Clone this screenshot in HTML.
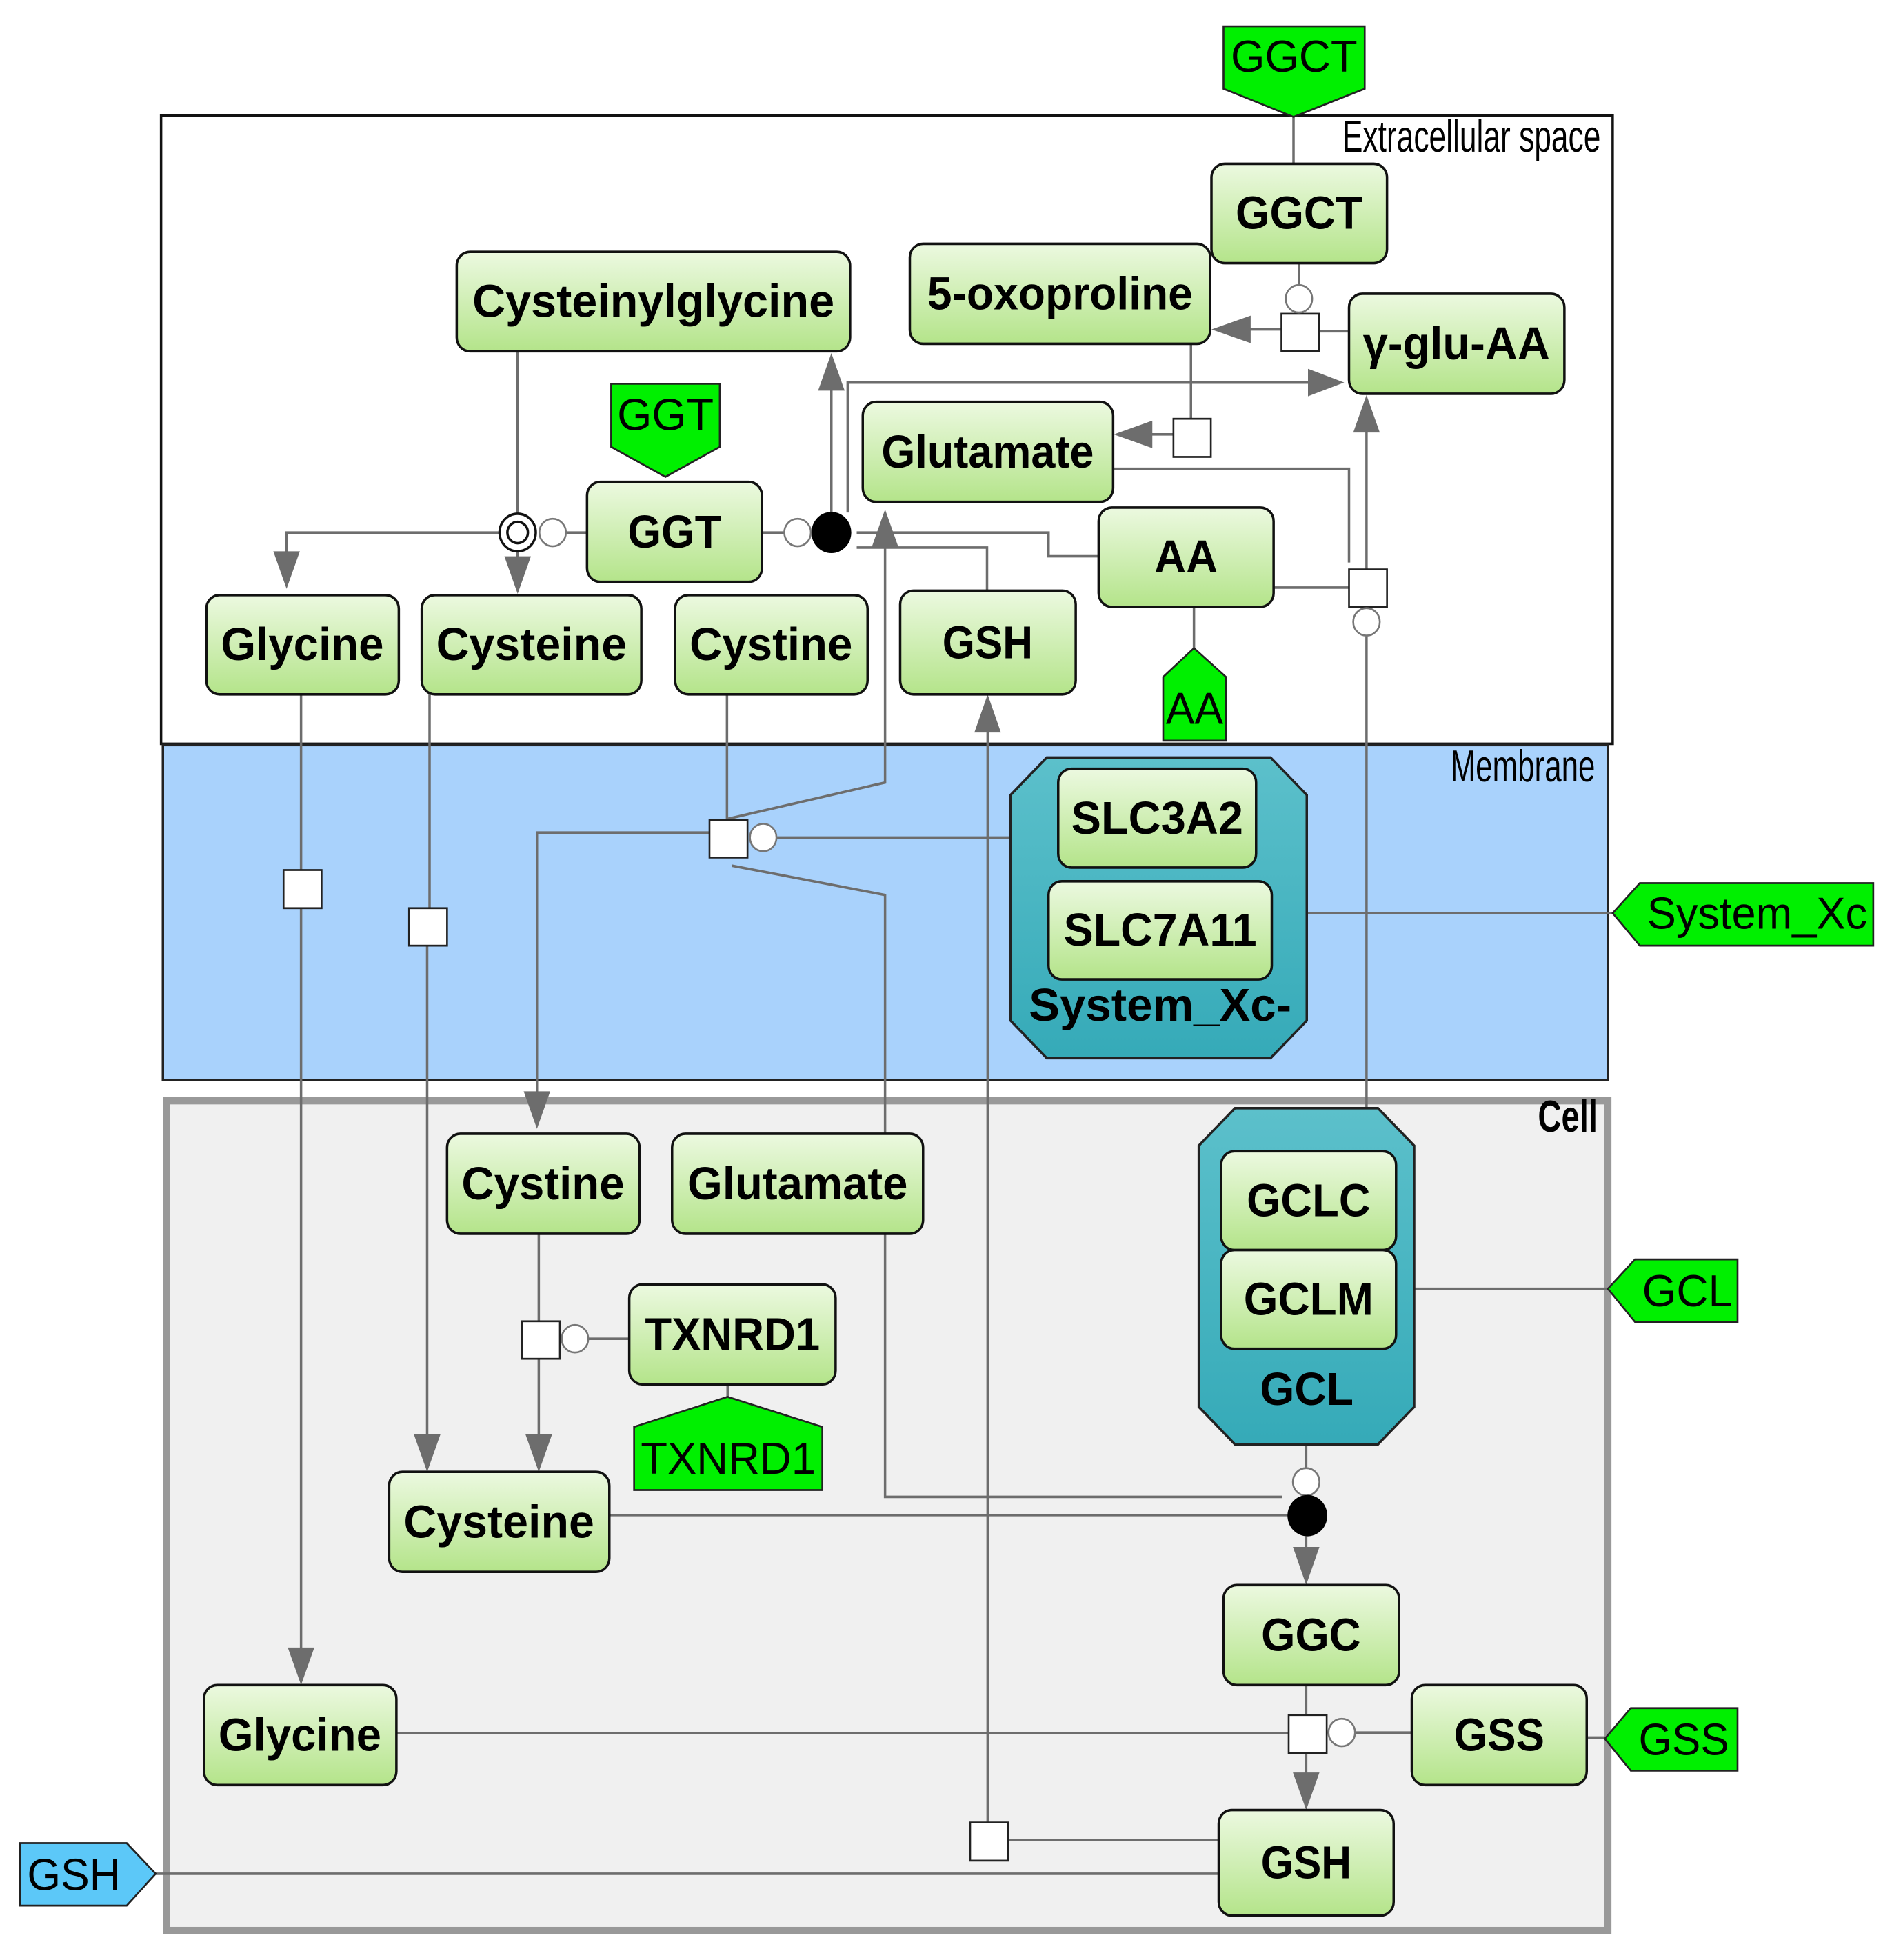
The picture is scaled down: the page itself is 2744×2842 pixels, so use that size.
<!DOCTYPE html>
<html><head><meta charset="utf-8"><style>
html,body{margin:0;padding:0;background:#fff;}
svg{display:block;}
.n{font-family:"Liberation Sans",sans-serif;font-weight:bold;font-size:74px;text-anchor:middle;fill:#000;}
.l{font-family:"Liberation Sans",sans-serif;font-size:72px;fill:#000;}
.c{fill:none;stroke:#6d6d6d;stroke-width:4;}
.a{fill:#6d6d6d;stroke:none;}
.sq{fill:#fff;stroke:#222;stroke-width:3;}
.hx{fill:#fff;stroke:#777;stroke-width:3;}
.nd{fill:url(#g);stroke:#111;stroke-width:4;}
.lb{fill:#00f000;stroke:#222;stroke-width:3;}
.cx{fill:url(#t);stroke:#222;stroke-width:4;}
</style></head><body>
<svg width="2744" height="2842" viewBox="0 0 3136 3136" preserveAspectRatio="none" xmlns="http://www.w3.org/2000/svg">
<defs>
<linearGradient id="g" x1="0" y1="0" x2="0" y2="1"><stop offset="0" stop-color="#ecf9e0"/><stop offset="1" stop-color="#b4e48a"/></linearGradient>
<linearGradient id="t" x1="0" y1="0" x2="0" y2="1"><stop offset="0" stop-color="#5cc0cb"/><stop offset="1" stop-color="#35aab8"/></linearGradient>
</defs>
<rect width="3136" height="3136" fill="#fff"/>
<!-- compartments -->
<rect x="267" y="185" width="2406" height="1005" fill="#fff" stroke="#111" stroke-width="4"/>
<rect x="270" y="1192" width="2395" height="536" fill="#a9d2fc" stroke="#222" stroke-width="4"/>
<rect x="276" y="1761" width="2389" height="1328" fill="#f0f0f0" stroke="#999" stroke-width="12"/>
<text class="l" x="2225" y="243" font-size="36" textLength="428" lengthAdjust="spacingAndGlyphs">Extracellular space</text>
<text class="l" x="2404" y="1250" font-size="36" textLength="240" lengthAdjust="spacingAndGlyphs">Membrane</text>
<text class="l" x="2549" y="1811" font-size="36" font-weight="bold" textLength="99" lengthAdjust="spacingAndGlyphs">Cell</text>

<!-- connectors -->
<g class="c">
<path d="M2144 187V262"/>
<path d="M2153 421V456"/>
<path d="M2186 530H2236"/>
<path d="M2124 527H2070"/>
<path d="M1974 550V670"/>
<path d="M1945 695H1905"/>
<path d="M1845 750H2236V900"/>
<path d="M2111 940H2236"/>
<path d="M2265 911V690"/>
<path d="M2265 1018V1773"/>
<path d="M1979 971V1037"/>
<path d="M1263 852H1300"/>
<path d="M1378 819V620"/>
<path d="M1405 820V612H2170"/>
<path d="M1420 852H1738V890H1821"/>
<path d="M1420 876H1636V945"/>
<path d="M1467 870V1252L1207 1310"/>
<path d="M858 562V822"/>
<path d="M938 852H973"/>
<path d="M828 852H475V885"/>
<path d="M858 882V892"/>
<path d="M499 1111V1392M499 1453V2639"/>
<path d="M712 1111V1453M708 1513V2299"/>
<path d="M1205 1111V1312"/>
<path d="M1287 1340H1675"/>
<path d="M1176 1332H890V1749"/>
<path d="M1213 1385L1467 1432V1814"/>
<path d="M2166 1461H2673"/>
<path d="M1637 1170V2916"/>
<path d="M1671 2944H2020"/>
<path d="M258 2998H2020"/>
<path d="M893 1974V2114M893 2174V2299"/>
<path d="M975 2142H1043"/>
<path d="M1206 2215V2235"/>
<path d="M1467 1974V2395H2125"/>
<path d="M1010 2424H2135"/>
<path d="M2165 2311V2349"/>
<path d="M2165 2458V2479"/>
<path d="M2165 2696V2744M2165 2805V2839"/>
<path d="M2246 2772H2340"/>
<path d="M657 2773H2136"/>
<path d="M2344 2062H2665"/>
<path d="M2630 2780H2660"/>
</g>
<!-- arrowheads -->
<g class="a">
<polygon points="2008,527 2073,505 2073,549"/>
<polygon points="1846,695 1910,673 1910,717"/>
<polygon points="2265,632 2243,692 2287,692"/>
<polygon points="1378,565 1356,625 1400,625"/>
<polygon points="2228,612 2168,590 2168,634"/>
<polygon points="1467,815 1445,875 1489,875"/>
<polygon points="475,942 453,882 497,882"/>
<polygon points="858,950 836,890 880,890"/>
<polygon points="499,2696 477,2636 521,2636"/>
<polygon points="708,2355 686,2295 730,2295"/>
<polygon points="890,1806 868,1746 912,1746"/>
<polygon points="1637,1111 1615,1172 1659,1172"/>
<polygon points="893,2355 871,2295 915,2295"/>
<polygon points="2165,2536 2143,2475 2187,2475"/>
<polygon points="2165,2896 2143,2836 2187,2836"/>
</g>
<!-- squares, hexes, dots -->
<rect class="sq" x="2124" y="502" width="62" height="60"/>
<rect class="sq" x="1945" y="670" width="62" height="61"/>
<rect class="sq" x="2236" y="911" width="63" height="60"/>
<rect class="sq" x="470" y="1392" width="63" height="61"/>
<rect class="sq" x="678" y="1453" width="63" height="60"/>
<rect class="sq" x="1176" y="1312" width="63" height="60"/>
<rect class="sq" x="1608" y="2916" width="63" height="61"/>
<rect class="sq" x="865" y="2114" width="63" height="60"/>
<rect class="sq" x="2136" y="2744" width="63" height="61"/>
<circle class="hx" cx="2153" cy="478" r="22"/>
<circle class="hx" cx="2265" cy="995" r="22"/>
<circle class="hx" cx="1322" cy="852" r="22"/>
<circle class="hx" cx="916" cy="852" r="22"/>
<circle class="hx" cx="1265" cy="1340" r="22"/>
<circle class="hx" cx="953" cy="2142" r="22"/>
<circle class="hx" cx="2165" cy="2371" r="22"/>
<circle class="hx" cx="2224" cy="2772" r="22"/>
<circle cx="858" cy="852" r="30" fill="#fff" stroke="#111" stroke-width="4"/>
<circle cx="858" cy="852" r="17" fill="#fff" stroke="#111" stroke-width="4"/>
<circle cx="1378" cy="852" r="33" fill="#000"/>
<circle cx="2167" cy="2425" r="33" fill="#000"/>

<!-- complexes -->
<polygon class="cx" points="1735,1212 2106,1212 2166,1272 2166,1633 2106,1693 1735,1693 1675,1633 1675,1272"/>
<text class="n" x="1923" y="1633" textLength="435" lengthAdjust="spacingAndGlyphs">System_Xc-</text>
<polygon class="cx" points="2047,1773 2284,1773 2344,1833 2344,2251 2284,2311 2047,2311 1987,2251 1987,1833"/>
<text class="n" x="2166" y="2248" textLength="155" lengthAdjust="spacingAndGlyphs">GCL</text>

<!-- nodes -->
<g>
<rect class="nd" x="757" y="403" width="652" height="159" rx="22"/><text class="n" x="1083" y="507" textLength="600" lengthAdjust="spacingAndGlyphs">Cysteinylglycine</text>
<rect class="nd" x="973" y="771" width="290" height="160" rx="22"/><text class="n" x="1118" y="876" textLength="155" lengthAdjust="spacingAndGlyphs">GGT</text>
<rect class="nd" x="342" y="952" width="319" height="159" rx="22"/><text class="n" x="501" y="1056" textLength="270" lengthAdjust="spacingAndGlyphs">Glycine</text>
<rect class="nd" x="699" y="952" width="364" height="159" rx="22"/><text class="n" x="881" y="1056" textLength="316" lengthAdjust="spacingAndGlyphs">Cysteine</text>
<rect class="nd" x="1119" y="952" width="319" height="159" rx="22"/><text class="n" x="1278" y="1056" textLength="270" lengthAdjust="spacingAndGlyphs">Cystine</text>
<rect class="nd" x="1430" y="643" width="415" height="160" rx="22"/><text class="n" x="1637" y="748" textLength="352" lengthAdjust="spacingAndGlyphs">Glutamate</text>
<rect class="nd" x="1492" y="945" width="291" height="166" rx="22"/><text class="n" x="1637" y="1053" textLength="150" lengthAdjust="spacingAndGlyphs">GSH</text>
<rect class="nd" x="2008" y="262" width="291" height="159" rx="22"/><text class="n" x="2153" y="366" textLength="210" lengthAdjust="spacingAndGlyphs">GGCT</text>
<rect class="nd" x="1508" y="390" width="498" height="160" rx="22"/><text class="n" x="1757" y="495" textLength="440" lengthAdjust="spacingAndGlyphs">5-oxoproline</text>
<rect class="nd" x="2236" y="470" width="357" height="160" rx="22"/><text class="n" x="2414" y="575" textLength="310" lengthAdjust="spacingAndGlyphs">γ-glu-AA</text>
<rect class="nd" x="1821" y="812" width="290" height="159" rx="22"/><text class="n" x="1966" y="916" textLength="105" lengthAdjust="spacingAndGlyphs">AA</text>
<rect class="nd" x="1754" y="1230" width="328" height="158" rx="22"/><text class="n" x="1918" y="1334" textLength="285" lengthAdjust="spacingAndGlyphs">SLC3A2</text>
<rect class="nd" x="1738" y="1410" width="370" height="157" rx="22"/><text class="n" x="1923" y="1513" textLength="320" lengthAdjust="spacingAndGlyphs">SLC7A11</text>
<rect class="nd" x="741" y="1814" width="319" height="160" rx="22"/><text class="n" x="900" y="1919" textLength="270" lengthAdjust="spacingAndGlyphs">Cystine</text>
<rect class="nd" x="1114" y="1814" width="416" height="160" rx="22"/><text class="n" x="1322" y="1919" textLength="365" lengthAdjust="spacingAndGlyphs">Glutamate</text>
<rect class="nd" x="1043" y="2055" width="342" height="160" rx="22"/><text class="n" x="1214" y="2160" textLength="290" lengthAdjust="spacingAndGlyphs">TXNRD1</text>
<rect class="nd" x="645" y="2355" width="365" height="160" rx="22"/><text class="n" x="827" y="2460" textLength="316" lengthAdjust="spacingAndGlyphs">Cysteine</text>
<rect class="nd" x="338" y="2696" width="319" height="160" rx="22"/><text class="n" x="497" y="2801" textLength="270" lengthAdjust="spacingAndGlyphs">Glycine</text>
<rect class="nd" x="2024" y="1842" width="290" height="158" rx="22"/><text class="n" x="2169" y="1946" textLength="205" lengthAdjust="spacingAndGlyphs">GCLC</text>
<rect class="nd" x="2024" y="2000" width="290" height="158" rx="22"/><text class="n" x="2169" y="2104" textLength="215" lengthAdjust="spacingAndGlyphs">GCLM</text>
<rect class="nd" x="2028" y="2536" width="291" height="160" rx="22"/><text class="n" x="2173" y="2641" textLength="165" lengthAdjust="spacingAndGlyphs">GGC</text>
<rect class="nd" x="2340" y="2696" width="290" height="160" rx="22"/><text class="n" x="2485" y="2801" textLength="150" lengthAdjust="spacingAndGlyphs">GSS</text>
<rect class="nd" x="2020" y="2896" width="290" height="169" rx="22"/><text class="n" x="2165" y="3005" textLength="150" lengthAdjust="spacingAndGlyphs">GSH</text>
</g>

<!-- labels -->
<polygon class="lb" points="2028,42 2262,42 2262,142 2144,187 2028,142"/>
<text class="l" x="2145" y="115" text-anchor="middle" textLength="210" lengthAdjust="spacingAndGlyphs">GGCT</text>
<polygon class="lb" points="1013,614 1193,614 1193,715 1103,763 1013,715"/>
<text class="l" x="1103" y="688" text-anchor="middle" textLength="160" lengthAdjust="spacingAndGlyphs">GGT</text>
<polygon class="lb" points="1928,1185 1928,1083 1979,1037 2032,1083 2032,1185"/>
<text class="l" x="1980" y="1158" text-anchor="middle" textLength="95" lengthAdjust="spacingAndGlyphs">AA</text>
<polygon class="lb" points="1051,2384 1051,2283 1206,2235 1363,2283 1363,2384"/>
<text class="l" x="1207" y="2358" text-anchor="middle" textLength="290" lengthAdjust="spacingAndGlyphs">TXNRD1</text>
<polygon class="lb" points="2673,1461 2718,1413 3105,1413 3105,1513 2718,1513"/>
<text class="l" x="2730" y="1486" textLength="365" lengthAdjust="spacingAndGlyphs">System_Xc</text>
<polygon class="lb" points="2665,2062 2710,2015 2880,2015 2880,2115 2710,2115"/>
<text class="l" x="2722" y="2090" textLength="150" lengthAdjust="spacingAndGlyphs">GCL</text>
<polygon class="lb" points="2660,2782 2703,2733 2880,2733 2880,2833 2703,2833"/>
<text class="l" x="2716" y="2808" textLength="150" lengthAdjust="spacingAndGlyphs">GSS</text>
<polygon points="33,2949 210,2949 258,2998 210,3049 33,3049" fill="#5cc8f8" stroke="#222" stroke-width="3"/>
<text class="l" x="45" y="3024" textLength="155" lengthAdjust="spacingAndGlyphs">GSH</text>
</svg>
</body></html>
